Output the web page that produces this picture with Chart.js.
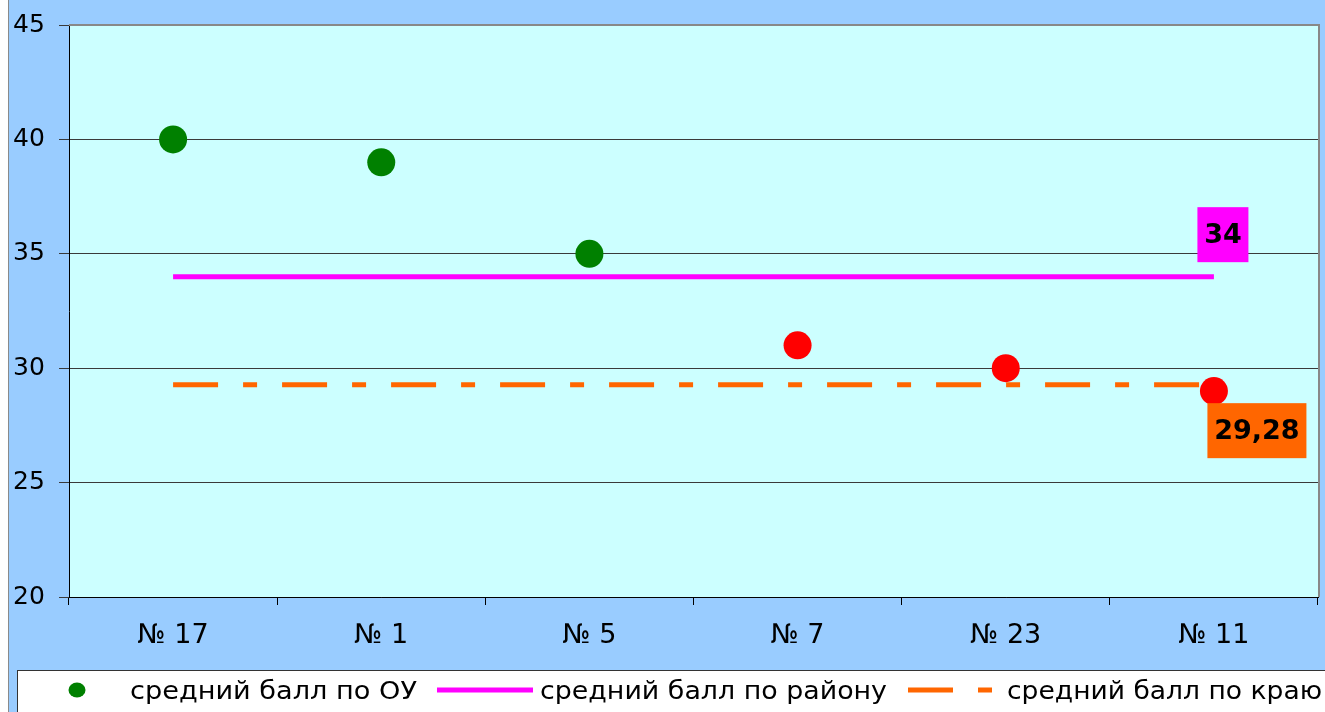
<!DOCTYPE html>
<html>
<head>
<meta charset="utf-8">
<script src="https://cdn.jsdelivr.net/npm/chart.js@4/dist/chart.umd.min.js"></script>
<style>
  html, body { margin: 0; padding: 0; background: #fff; }
  canvas { display: block; }
</style>
</head>
<body>
<canvas id="chart" width="1325" height="712"></canvas>
<script>
// data
const schools = ['№ 17', '№ 1', '№ 5', '№ 7', '№ 23', '№ 11'];
const schoolAvg = [40, 39, 35, 31, 30, 29];
const districtAvg = 34;
const regionAvg = 29.28;
const yTicks = [20, 25, 30, 35, 40, 45];

const seriesNames = ['средний балл по ОУ', 'средний балл по району', 'средний балл по краю'];

const districtLine = schools.map(() => districtAvg);
const regionLine = schools.map(() => regionAvg);

const FONT = 'DejaVu Sans';

// blue frame, white left strip, cyan plot area, grey top/right border
const background = {
  id: 'background',
  beforeDraw(chart) {
    const ctx = chart.ctx;
    const a = chart.chartArea;
    ctx.save();
    ctx.fillStyle = '#ffffff';
    ctx.fillRect(0, 0, chart.width, chart.height);
    ctx.fillStyle = '#99ccff';
    ctx.fillRect(9, 0, chart.width - 9, chart.height);
    ctx.fillStyle = '#8a8a8a';
    ctx.fillRect(8, 0, 1, chart.height);
    ctx.fillStyle = '#ccffff';
    ctx.fillRect(a.left, a.top, a.right - a.left, a.bottom - a.top);
    ctx.restore();
  },
  beforeDatasetsDraw(chart) {
    const ctx = chart.ctx;
    const a = chart.chartArea;
    ctx.save();
    ctx.strokeStyle = '#888888';
    ctx.lineWidth = 2;
    ctx.beginPath();
    ctx.moveTo(a.left, a.top);
    ctx.lineTo(a.right + 1, a.top);
    ctx.lineTo(a.right + 1, a.bottom);
    ctx.stroke();
    ctx.restore();
  }
};

// value boxes at the end of the two average lines
const endTags = {
  id: 'endTags',
  afterDatasetsDraw(chart, args, opts) {
    const ctx = chart.ctx;
    opts.items.forEach(t => {
      const ds = chart.data.datasets[t.dataset];
      const meta = chart.getDatasetMeta(t.dataset);
      const last = meta.data[meta.data.length - 1];
      const val = ds.data[ds.data.length - 1];
      const cx = last.x + t.dx, cy = last.y + t.dy;
      ctx.save();
      ctx.fillStyle = t.bg;
      ctx.fillRect(cx - t.w / 2, cy - t.h / 2, t.w, t.h);
      ctx.fillStyle = '#000';
      ctx.font = 'bold 27px ' + FONT;
      ctx.textAlign = 'center';
      ctx.textBaseline = 'middle';
      ctx.fillText(val.toLocaleString('ru-RU'), cx, cy + 1);
      ctx.restore();
    });
  }
};

// legend in a white box along the bottom
const boxLegend = {
  id: 'boxLegend',
  afterDraw(chart, args, opts) {
    const ctx = chart.ctx;
    ctx.save();
    ctx.fillStyle = '#ffffff';
    ctx.fillRect(opts.left, opts.top, chart.width, chart.height);
    ctx.strokeStyle = '#333333';
    ctx.lineWidth = 1;
    ctx.strokeRect(opts.left + 0.5, opts.top + 0.5, chart.width + 10, chart.height);
    const y = opts.y;
    chart.data.datasets.forEach((ds, i) => {
      const it = opts.items[i];
      if (ds.showLine === false) {
        ctx.fillStyle = '#008000';
        ctx.beginPath();
        ctx.ellipse(it.x1, y, 8.5, 7.5, 0, 0, Math.PI * 2);
        ctx.fill();
      } else {
        ctx.strokeStyle = ds.borderColor;
        ctx.lineWidth = ds.borderWidth;
        ctx.setLineDash(ds.borderDash || []);
        ctx.beginPath();
        ctx.moveTo(it.x1, y);
        ctx.lineTo(it.x2, y);
        ctx.stroke();
        ctx.setLineDash([]);
      }
      ctx.fillStyle = '#000';
      ctx.font = '24px ' + FONT;
      ctx.textBaseline = 'middle';
      ctx.textAlign = 'left';
      const w = ctx.measureText(ds.label).width;
      ctx.save();
      ctx.translate(it.tx, y + 3);
      ctx.scale(it.tw / w, 1);
      ctx.fillText(ds.label, 0, 0);
      ctx.restore();
    });
    ctx.restore();
  }
};

const ctx = document.getElementById('chart');
new Chart(ctx, {
  type: 'line',
  data: {
    labels: schools,
    datasets: [
      {
        label: seriesNames[0],
        data: schoolAvg,
        showLine: false,
        pointRadius: 14,
        pointHoverRadius: 14,
        pointBackgroundColor: c => c.raw >= districtAvg ? '#008000' : '#ff0000',
        pointBorderColor: c => c.raw >= districtAvg ? '#008000' : '#ff0000',
        pointBorderWidth: 0
      },
      {
        label: seriesNames[1],
        data: districtLine,
        borderColor: '#ff00ff',
        borderWidth: 5,
        pointRadius: 0,
        fill: false
      },
      {
        label: seriesNames[2],
        data: regionLine,
        borderColor: '#ff6600',
        borderWidth: 5,
        borderDash: [45, 25, 14, 25],
        pointRadius: 0,
        fill: false
      }
    ]
  },
  options: {
    responsive: false,
    animation: false,
    devicePixelRatio: 1,
    layout: { autoPadding: false, padding: { left: 13, top: 25, right: 7, bottom: 0 } },
    plugins: {
      legend: { display: false },
      tooltip: { enabled: false },
      endTags: {
        items: [
          { dataset: 1, dx: 9, dy: -42, w: 51, h: 55, bg: '#ff00ff' },
          { dataset: 2, dx: 43, dy: 46, w: 99, h: 55, bg: '#ff6600' }
        ]
      },
      boxLegend: {
        left: 17, top: 670, y: 690,
        items: [
          { x1: 77, tx: 130, tw: 287 },
          { x1: 437, x2: 533, tx: 540, tw: 347 },
          { x1: 908, x2: 992, tx: 1007, tw: 315 }
        ]
      }
    },
    scales: {
      x: {
        offset: true,
        grid: { display: true, drawOnChartArea: false, offset: true, tickLength: 8, color: '#000' },
        border: { display: true, color: '#000', width: 1 },
        ticks: { color: '#000', font: { family: FONT, size: 27 }, padding: 15 },
        afterFit(scale) { scale.height = 115; }
      },
      y: {
        min: 20,
        max: 45,
        afterBuildTicks(scale) { scale.ticks = yTicks.map(v => ({ value: v })); },
        grid: { color: '#3a3a3a', tickLength: 10, lineWidth: 1 },
        border: { display: true, color: '#000', width: 1 },
        ticks: { color: '#000', crossAlign: 'far', font: { family: FONT, size: 25 }, padding: 4 },
        afterFit(scale) { scale.width = 56; }
      }
    }
  },
  plugins: [background, endTags, boxLegend]
});
</script>
</body>
</html>
